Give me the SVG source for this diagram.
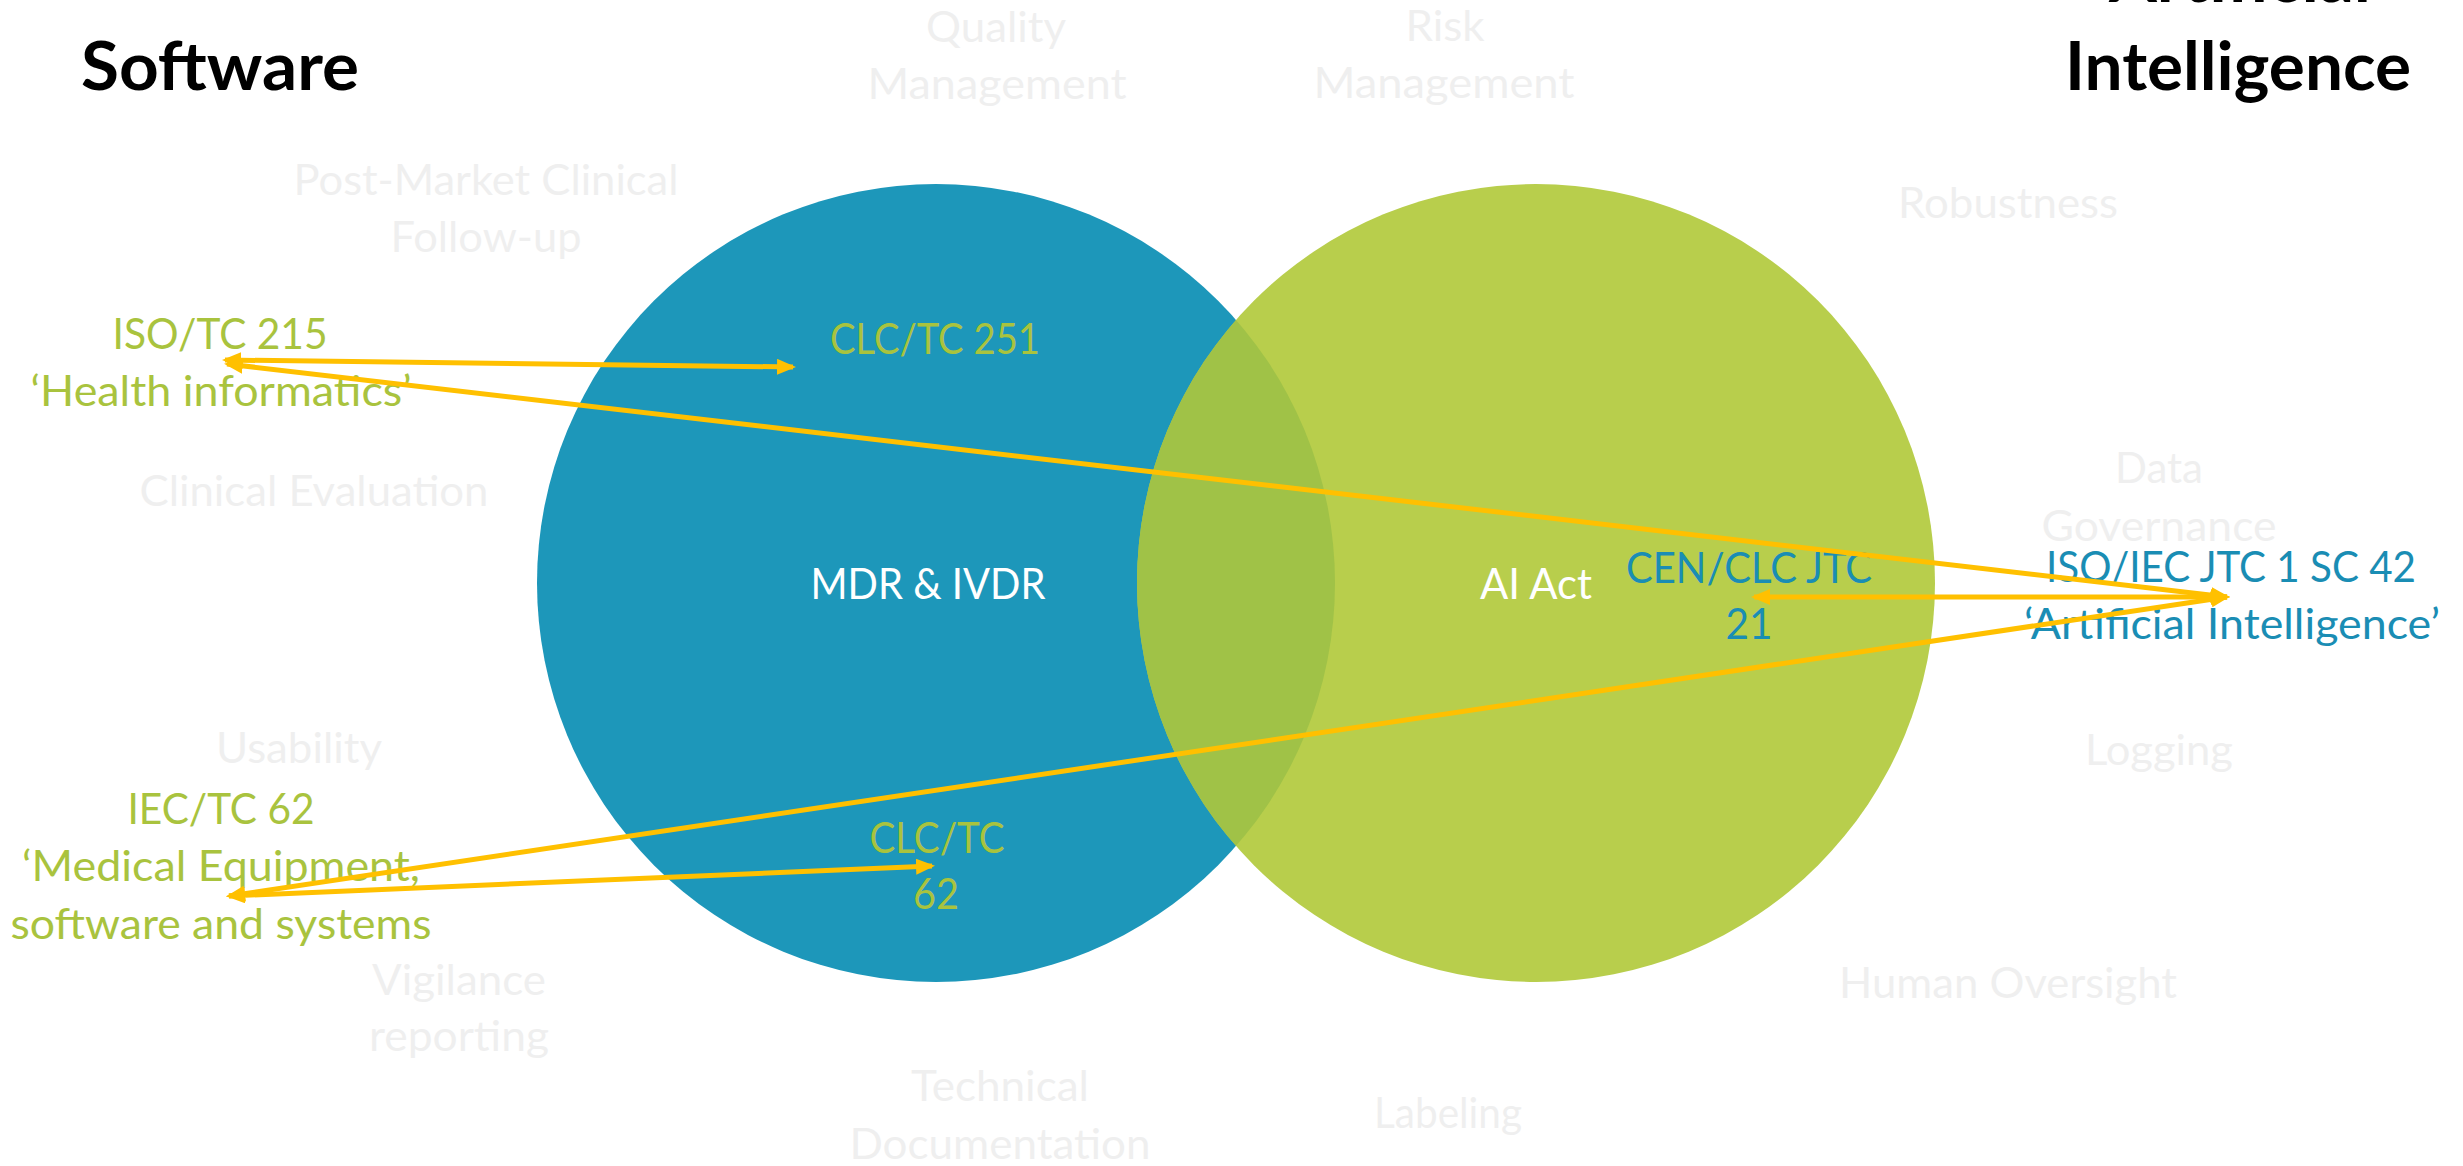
<svg xmlns="http://www.w3.org/2000/svg" width="2463" height="1166" viewBox="0 0 2463 1166">
<style>
  text { font-family: Lato, "Open Sans", "Liberation Sans", sans-serif; text-anchor: middle; }
  .t { font-size: 66px; font-weight: bold; fill: #000; }
  .l { font-size: 42px; }
  .gray { fill: #efefef; }
  .lime { fill: #a9c33e; }
  .blue { fill: #1a8db4; }
  .white { fill: #ffffff; }
  .conn { stroke: #FFC000; stroke-width: 5; fill: none; marker-start: url(#ah); marker-end: url(#ah); }
</style>
<defs>
  <marker id="ah" viewBox="0 0 19 16" refX="16" refY="8" markerWidth="19" markerHeight="16" markerUnits="userSpaceOnUse" orient="auto-start-reverse">
    <path d="M0,0 L19,8 L0,16 z" fill="#FFC000"/>
  </marker>
  <clipPath id="greenClip"><circle cx="1536" cy="583" r="399"/></clipPath>
</defs>
<rect width="2463" height="1166" fill="#ffffff"/>

<g id="circle-mdr">
  <circle cx="936" cy="583" r="399" fill="#1d97ba"/>
</g>
<g id="circle-ai">
  <circle cx="1536" cy="583" r="399" fill="#b8ce4c"/>
</g>
<g id="overlap">
  <circle cx="936" cy="583" r="399" fill="#a0c247" clip-path="url(#greenClip)"/>
</g>

<g id="title-software">
  <text class="t" x="220" y="90" textLength="278" lengthAdjust="spacingAndGlyphs">Software</text>
</g>
<g id="title-ai">
  <text class="t" x="2240" y="2" textLength="262" lengthAdjust="spacingAndGlyphs">Artificial</text>
  <text class="t" x="2238" y="90" textLength="346" lengthAdjust="spacingAndGlyphs">Intelligence</text>
</g>

<g id="topic-quality">
  <text class="l gray" x="996" y="42" textLength="140" lengthAdjust="spacingAndGlyphs">Quality</text>
  <text class="l gray" x="997" y="99" textLength="259" lengthAdjust="spacingAndGlyphs">Management</text>
</g>
<g id="topic-risk">
  <text class="l gray" x="1445" y="41" textLength="79" lengthAdjust="spacingAndGlyphs">Risk</text>
  <text class="l gray" x="1444" y="98" textLength="261" lengthAdjust="spacingAndGlyphs">Management</text>
</g>
<g id="topic-pmcf">
  <text class="l gray" x="486" y="195" textLength="385" lengthAdjust="spacingAndGlyphs">Post-Market Clinical</text>
  <text class="l gray" x="486" y="252" textLength="191" lengthAdjust="spacingAndGlyphs">Follow-up</text>
</g>
<g id="topic-robustness">
  <text class="l gray" x="2008" y="218" textLength="220" lengthAdjust="spacingAndGlyphs">Robustness</text>
</g>
<g id="topic-clinical-eval">
  <text class="l gray" x="314" y="506" textLength="349" lengthAdjust="spacingAndGlyphs">Clinical Evaluation</text>
</g>
<g id="topic-data-gov">
  <text class="l gray" x="2159" y="483" textLength="88" lengthAdjust="spacingAndGlyphs">Data</text>
  <text class="l gray" x="2159" y="541" textLength="235" lengthAdjust="spacingAndGlyphs">Governance</text>
</g>
<g id="topic-usability">
  <text class="l gray" x="299" y="763" textLength="166" lengthAdjust="spacingAndGlyphs">Usability</text>
</g>
<g id="topic-logging">
  <text class="l gray" x="2159" y="765" textLength="148" lengthAdjust="spacingAndGlyphs">Logging</text>
</g>
<g id="topic-vigilance">
  <text class="l gray" x="459" y="995" textLength="174" lengthAdjust="spacingAndGlyphs">Vigilance</text>
  <text class="l gray" x="459" y="1051" textLength="180" lengthAdjust="spacingAndGlyphs">reporting</text>
</g>
<g id="topic-human-oversight">
  <text class="l gray" x="2008" y="998" textLength="338" lengthAdjust="spacingAndGlyphs">Human Oversight</text>
</g>
<g id="topic-techdoc">
  <text class="l gray" x="1000" y="1101" textLength="178" lengthAdjust="spacingAndGlyphs">Technical</text>
  <text class="l gray" x="1000" y="1159" textLength="301" lengthAdjust="spacingAndGlyphs">Documentation</text>
</g>
<g id="topic-labeling">
  <text class="l gray" x="1448" y="1128" textLength="148" lengthAdjust="spacingAndGlyphs">Labeling</text>
</g>

<g id="label-mdr">
  <text class="l white" x="928" y="599" textLength="235" lengthAdjust="spacingAndGlyphs">MDR &amp; IVDR</text>
</g>
<g id="label-aiact">
  <text class="l white" x="1536" y="599" textLength="112" lengthAdjust="spacingAndGlyphs">AI Act</text>
</g>

<g id="node-iso-tc215">
  <text class="l lime" x="220" y="349" textLength="215" lengthAdjust="spacingAndGlyphs">ISO/TC 215</text>
  <text class="l lime" x="221" y="406" textLength="381" lengthAdjust="spacingAndGlyphs">‘Health informatics’</text>
</g>
<g id="node-clc-tc251">
  <text class="l lime" x="935" y="354" textLength="210" lengthAdjust="spacingAndGlyphs">CLC/TC 251</text>
</g>
<g id="node-iec-tc62">
  <text class="l lime" x="221" y="824" textLength="187" lengthAdjust="spacingAndGlyphs">IEC/TC 62</text>
  <text class="l lime" x="221" y="881" textLength="398" lengthAdjust="spacingAndGlyphs">‘Medical Equipment,</text>
  <text class="l lime" x="221" y="939" textLength="421" lengthAdjust="spacingAndGlyphs">software and systems</text>
</g>
<g id="node-clc-tc62">
  <text class="l lime" x="937" y="853" textLength="135" lengthAdjust="spacingAndGlyphs">CLC/TC</text>
  <text class="l lime" x="936" y="909" textLength="46" lengthAdjust="spacingAndGlyphs">62</text>
</g>
<g id="node-cen-clc-jtc21">
  <text class="l blue" x="1749" y="583" textLength="246" lengthAdjust="spacingAndGlyphs">CEN/CLC JTC</text>
  <text class="l blue" x="1749" y="639" textLength="47" lengthAdjust="spacingAndGlyphs">21</text>
</g>
<g id="node-iso-iec-sc42">
  <text class="l blue" x="2231" y="582" textLength="370" lengthAdjust="spacingAndGlyphs">ISO/IEC JTC 1 SC 42</text>
  <text class="l blue" x="2232" y="639" textLength="416" lengthAdjust="spacingAndGlyphs">‘Artificial Intelligence’</text>
</g>

<g id="connectors">
  <line class="conn" x1="225" y1="360" x2="793" y2="367"/>
  <line class="conn" x1="227" y1="364" x2="2227" y2="597"/>
  <line class="conn" x1="1754" y1="597" x2="2227" y2="597"/>
  <line class="conn" x1="229" y1="896" x2="2227" y2="597"/>
  <line class="conn" x1="229" y1="896" x2="932" y2="866"/>
</g>
</svg>
